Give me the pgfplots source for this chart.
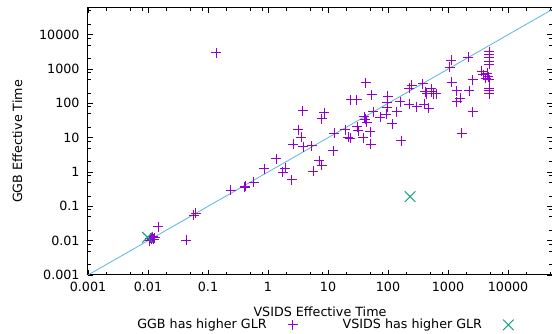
\documentclass[border=0pt]{standalone}
\usepackage{pgfplots}
\pgfplotsset{compat=1.18}
\usepackage{fontspec}
\setmainfont{DejaVu Sans}
\definecolor{gpurple}{HTML}{9400D3}
\definecolor{ggreen}{HTML}{009E73}
\definecolor{gblue}{HTML}{56B4E9}
\begin{document}
\fontsize{12.7}{15}\selectfont
\begin{tikzpicture}
\begin{axis}[
  at={(0,0)}, anchor=south west,
  scale only axis, width=464pt, height=267pt,
  xmode=log, ymode=log,
  xmin=0.001, xmax=54000, ymin=0.001, ymax=60000,
  xtick={0.001,0.01,0.1,1,10,100,1000,10000},
  xticklabels={0.001,0.01,0.1,1,10,100,1000,10000},
  ytick={0.001,0.01,0.1,1,10,100,1000,10000},
  yticklabels={0.001,0.01,0.1,1,10,100,1000,10000},
  minor xtick={0.002,0.005,0.008,0.02,0.05,0.08,0.2,0.5,0.8,2,5,8,20,50,80,200,500,800,2000,5000,8000,20000,50000},
  minor ytick={0.002,0.005,0.008,0.02,0.05,0.08,0.2,0.5,0.8,2,5,8,20,50,80,200,500,800,2000,5000,8000,20000,50000},
  tick align=inside,
  major tick length=5pt, minor tick length=3pt,
  axis line style={line width=1pt},
  every tick/.style={line width=0.7pt},
  xticklabel style={yshift=-3pt},
  yticklabel style={xshift=-4pt},
  xlabel={VSIDS Effective Time},
  ylabel={GGB Effective Time},
  xlabel style={at={(axis description cs:0.5,-0.1375)}, anchor=center},
  ylabel style={at={(axis description cs:-0.152,0.5)}, anchor=center},
  legend plot pos=right,
  legend columns=2,
  legend cell align=right,
  legend style={draw=none, fill=none, at={(axis description cs:0.095,-0.187)}, anchor=west,
    /tikz/every odd column/.append style={column sep=19pt},
    /tikz/every even column/.append style={column sep=43pt}},
]
\addplot[only marks, mark=+, mark size=5pt, color=gpurple, line width=0.9pt] table[row sep=\\] {
x y\\
0.0105 0.0100\\ 0.011 0.0118\\ 0.0115 0.0110\\ 0.012 0.0130\\ 0.013 0.0122\\ 0.0125 0.0112\\
0.0149 0.0256\\ 0.043 0.0103\\ 0.058 0.055\\ 0.062 0.063\\ 0.136 2950\\
0.24 0.29\\ 0.41 0.36\\ 0.42 0.39\\ 0.58 0.50\\ 0.86 1.23\\ 1.36 2.46\\ 1.77 0.99\\ 1.92 1.29\\
2.5 0.59\\ 2.63 6.45\\ 3.2 16.9\\ 3.6 10.2\\ 3.78 60.4\\ 3.9 5.5\\ 5.35 5.8\\ 5.7 1.07\\
7.2 2.11\\ 7.9 1.58\\ 7.9 36\\ 8.7 53\\
12.2 4.2\\ 12.6 13.5\\ 19.2 16.9\\ 21.8 10.2\\ 23.4 9.6\\ 23.9 126\\ 30.2 126\\ 30.8 21\\
32 15.8\\ 38.7 10.1\\ 40.3 41\\ 41.6 35\\ 44 28.5\\ 42.5 404\\ 50 15.1\\ 51.4 6.45\\
53.5 177\\ 56.9 57.5\\ 73.6 39.8\\ 94 49\\ 96 78\\ 97 103\\ 99 160\\ 118 25.2\\
139.6 57.5\\ 158 113\\ 165 8.07\\ 226 95\\ 226 276\\ 250 340\\ 300 80\\ 378 370\\
400 95\\ 480 72\\ 414 221\\ 440 190\\ 530 221\\ 570 190\\ 630 190\\ 520 263\\
1072 1135\\ 1122 1780\\ 1150 417\\ 1400 230\\ 1400 113\\ 1580 141\\ 1690 13.5\\ 2180 2220\\
2270 230\\ 2570 485\\ 2570 57.5\\ 3650 850\\ 3860 675\\ 4520 760\\ 4220 540\\ 4820 485\\
4640 600\\ 4900 3240\\ 4900 2750\\ 4900 2200\\ 4900 1700\\ 4900 1400\\ 4900 276\\
4900 236\\ 4900 190\\
};
\addlegendentry{GGB has higher GLR}
\addplot[only marks, mark=x, mark size=7.5pt, color=ggreen, line width=0.9pt] coordinates {
(0.0098,0.0125) (233,0.192)
};
\addlegendentry{VSIDS has higher GLR}
\addplot[color=gblue, line width=0.8pt, forget plot] coordinates {(0.001,0.001) (54000,54000)};
\end{axis}
\pgfresetboundingbox
\path (-88pt,-59pt) rectangle (464pt,275pt);
\end{tikzpicture}
\end{document}
